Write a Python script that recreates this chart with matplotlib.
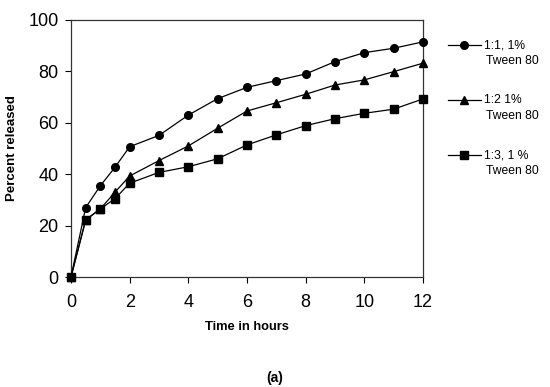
import matplotlib
matplotlib.use("Agg")
import matplotlib.pyplot as plt
from matplotlib.lines import Line2D

plt.rcParams['font.family'] = ['Liberation Sans', 'DejaVu Sans']

time_h = [0, 0.5, 1, 1.5, 2, 3, 4, 5, 6, 7, 8, 9, 10, 11, 12]
ratio_11 = [0, 27, 35.5, 42.7, 50.7, 55.1, 63, 69.4, 73.8, 76.4, 79, 83.8, 87.3, 89, 91.5]
ratio_12 = [0, 22.2, 26.5, 33, 39.3, 45.3, 51, 57.9, 64.6, 67.8, 71.1, 74.7, 76.7, 79.9, 83.2]
ratio_13 = [0, 22.2, 26.5, 30.5, 36.5, 40.7, 42.9, 46, 51.4, 55.3, 58.9, 61.6, 63.7, 65.3, 69.3]
series_labels = ["1:1, 1%", "1:2 1%", "1:3, 1 %"]
series_sub = "Tween 80"
x_ticks = [0, 2, 4, 6, 8, 10, 12]
y_ticks = [0, 20, 40, 60, 80, 100]

fig = plt.figure(figsize=(5.5, 3.87), dpi=100)
ax = fig.add_axes([71/550, 1-277/387, (423-71)/550, (277-20)/387])

markers = ['o', '^', 's']
msizes = [5.5, 6, 5.5]
data = [ratio_11, ratio_12, ratio_13]
for y, m, ms in zip(data, markers, msizes):
    ax.plot(time_h, y, color='black', lw=0.9, marker=m, ms=ms,
            markerfacecolor='black', markeredgecolor='black', clip_on=False, zorder=3)

ax.set_xlim(0, 12)
ax.set_ylim(0, 100)
ax.set_xticks(x_ticks)
ax.set_yticks(y_ticks)
ax.tick_params(axis='both', direction='out', length=4, width=0.8, labelsize=13,
               colors='black')
ax.tick_params(axis='x', pad=8)
ax.tick_params(axis='y', pad=5)
for s in ax.spines.values():
    s.set_linewidth(0.9)
    s.set_color('#333333')

fig.text(247/550, 1-327/387, "Time in hours", ha='center', va='center',
         fontsize=9.3, fontweight='bold')
fig.text(12/550, 1-148/387, "Percent released", ha='center', va='center',
         rotation=90, fontsize=9.5, fontweight='bold')
fig.text(275/550, 1-378/387, "(a)", ha='center', va='center',
         fontsize=10, fontweight='bold')

# legend (manual, outside the axes)
leg_y = [45, 100, 155]
for m, ms, lab, yy in zip(markers, msizes, series_labels, leg_y):
    yf = 1 - yy/387
    fig.add_artist(Line2D([448/550, 481/550], [yf, yf], color='black', lw=0.9,
                          transform=fig.transFigure))
    fig.add_artist(Line2D([464/550], [yf], marker=m, ms=ms, color='black',
                          transform=fig.transFigure))
    fig.text(484/550, yf, lab, ha='left', va='center', fontsize=8.7)
    fig.text(486/550, 1 - (yy + 16)/387, series_sub, ha='left', va='center', fontsize=8.7)

fig.savefig("out.png", dpi=100)
